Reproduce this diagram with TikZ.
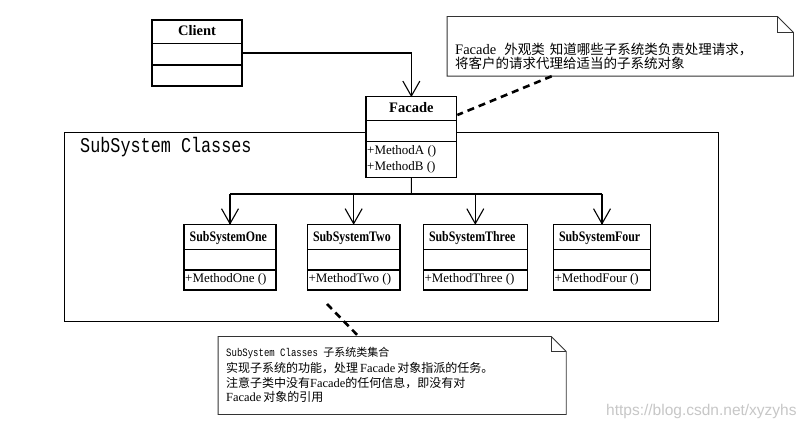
\documentclass[tikz,border=0pt]{standalone}
\usepackage{fontspec}
\setmainfont{Liberation Serif}
\newfontfamily\cjk{Noto Sans CJK SC}
\newfontfamily\lser{Liberation Serif}
\newfontfamily\clsn[FakeStretch=0.82]{Liberation Serif}
\newfontfamily\mono[FakeStretch=0.8]{Liberation Mono}
\newfontfamily\wmfont{Liberation Sans}
\usetikzlibrary{arrows.meta,fit,calc}

\tikzset{
  box/.style={draw, line width=1.3pt, fill=white, inner sep=0pt},
  sepline/.style={line width=1.1pt},
  frameline/.style={draw, line width=1.5pt, inner sep=0pt},
  assoc/.style={line width=1.1pt},
  vtip/.style={line width=1.1pt, line join=miter},
  plainlink/.style={line width=1.1pt},
  hint/.style={line width=2.6pt, dash pattern=on 7pt off 5pt},
  noteline/.style={line width=0.9pt, draw=black!80},
  clsname/.style={anchor=base west, inner sep=0pt, font=\fontsize{14.5}{16}\clsn\bfseries},
  topname/.style={anchor=base, inner sep=0pt, font=\fontsize{14.5}{16}\lser\bfseries},
  meth/.style={anchor=base west, inner sep=1pt, font=\fontsize{13}{15}\lser},
  txt/.style={anchor=base west, inner sep=0pt},
}

\newcommand\umlclass[7]{%
  \node[box, fit={(#2,#3) (#4,#5)}] (#1) {};
  \draw[sepline] (#2,#6) -- (#4,#6) (#2,#7) -- (#4,#7);
}
\newcommand\umlnote[6]{%
  \node[fit={(#2,#3) (#4,#5)}, inner sep=0pt] (#1) {};
  \draw[noteline, fill=white] (#1.north west) -- ([xshift=-#6pt]#1.north east)
     -- ([yshift=-#6pt]#1.north east) -- (#1.south east) -- (#1.south west) -- cycle;
  \draw[noteline] ([xshift=-#6pt]#1.north east) |- ([yshift=-#6pt]#1.north east);
}
% open V arrowhead pointing down onto the top of a node
\newcommand\downtip[1]{%
  \draw[vtip] ([xshift=-8.5pt,yshift=15pt]#1.north) -- (#1.north) -- ([xshift=8.5pt,yshift=15pt]#1.north);
}

\begin{document}
\begin{tikzpicture}[x=1pt,y=-1pt]
\useasboundingbox[fill=white] (0,0) rectangle (808,430);

% watermark
\node[anchor=base west, inner sep=0pt, text=black!22, font=\fontsize{15.5}{17}\wmfont] (wm) at (606,415) {https://blog.csdn.net/xyzyhs};

% package frame
\node[frameline, fit={(64.5,132.5) (718.7,321.7)}] (frame) {};
\node[txt, font=\fontsize{21}{24}\mono] (framelabel) at (80,153) {SubSystem Classes};

% classes
\umlclass{client}{152}{20}{242}{86}{43.3}{65}
\umlclass{facade}{366}{96.7}{456.7}{177.3}{120.7}{141.7}
\umlclass{one}{184}{224.3}{276}{290}{249.3}{270}
\umlclass{two}{307.3}{224.3}{400}{290}{249.3}{270}
\umlclass{three}{423.3}{224.3}{527.3}{290}{249.3}{270}
\umlclass{four}{553.3}{224.3}{650.7}{290}{249.3}{270}

\node[topname] (clientname) at (197,36) {Client};
\node[topname] (facadename) at (411.35,112.7) {Facade};
\node[meth] (fma) at (366,154.7) {+MethodA ()};
\node[meth] (fmb) at (366,170.7) {+MethodB ()};

\node[clsname] (onename) at (189.5,241.5) {SubSystemOne};
\node[clsname] (twoname) at (312.8,241.5) {SubSystemTwo};
\node[clsname] (threename) at (428.8,241.5) {SubSystemThree};
\node[clsname] (fourname) at (558.8,241.5) {SubSystemFour};

\node[meth] (onem) at (184,283) {+MethodOne ()};
\node[meth] (twom) at (307.3,283) {+MethodTwo ()};
\node[meth] (threem) at (423.3,283) {+MethodThree ()};
\node[meth] (fourm) at (553.3,283) {+MethodFour ()};

% associations
\draw[assoc] (client.east) -| (facade.north);
\downtip{facade}
\coordinate (br) at (411.35,194);
\draw[plainlink] (facade.south) -- (br);
\draw[plainlink] (one.north |- br) -- (four.north |- br);
\draw[assoc] (one.north |- br) -- (one.north);
\draw[assoc] (two.north |- br) -- (two.north);
\draw[assoc] (three.north |- br) -- (three.north);
\draw[assoc] (four.north |- br) -- (four.north);
\downtip{one}
\downtip{two}
\downtip{three}
\downtip{four}

% notes
\umlnote{note1}{447.3}{16.7}{793.3}{76}{16}
\umlnote{note2}{218.3}{336.7}{566}{414.3}{15}

\node[txt] (n1a) at (455,54.2) {{\fontsize{14.5}{16}\lser Facade}\hspace{8pt}{\fontsize{13.5}{16}\cjk 外观类\hspace{5pt}知道哪些子系统类负责处理请求，}};
\node[txt] (n1b) at (455,68.6) {\fontsize{13.5}{16}\cjk 将客户的请求代理给适当的子系统对象};

\node[txt] (n2a) at (226,356.9) {{\fontsize{11.25}{13}\mono SubSystem Classes }{\fontsize{11}{13}\cjk 子系统类集合}};
\node[txt] (n2b) at (226,372.9) {{\fontsize{12}{14}\cjk 实现子系统的功能，处理}\hspace{2pt}{\fontsize{12.4}{14}\lser Facade}\hspace{2pt}{\fontsize{12}{14}\cjk 对象指派的任务。}};
\node[txt] (n2c) at (226,387.3) {{\fontsize{12}{14}\cjk 注意子类中没有}{\fontsize{12.4}{14}\lser Facade}{\fontsize{12}{14}\cjk 的任何信息，即没有对}};
\node[txt] (n2d) at (226,401.9) {{\fontsize{12.4}{14}\lser Facade}\hspace{2pt}{\fontsize{12}{14}\cjk 对象的引用}};

% note links
\draw[hint] ($(note1.south west)!0.302!(note1.south east)$) -- ([yshift=22pt]facade.east);
\coordinate (n2free) at (327,304);
\draw[hint] (n2free) -- ($(note2.north west)!0.404!(note2.north east)$);
\end{tikzpicture}
\end{document}
